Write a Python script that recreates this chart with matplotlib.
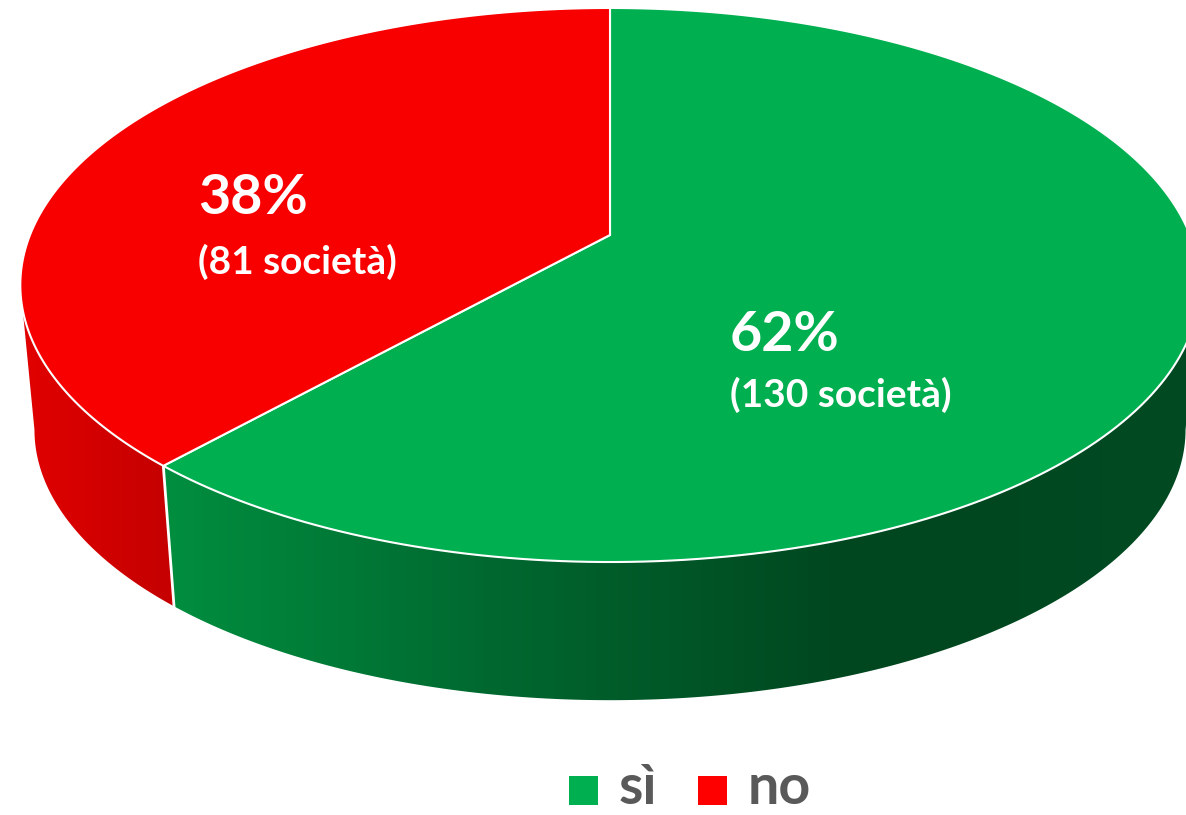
import numpy as np
import matplotlib
matplotlib.use("Agg")
import matplotlib.pyplot as plt
from matplotlib.patches import Polygon, Rectangle
from matplotlib.colors import to_rgb

# data
categorie = ["sì", "no"]
societa = [130, 81]
colori_top = ["#00b050", "#f90000"]
colori_legenda = ["#00b050", "#ff0000"]

totale = sum(societa)
percentuali = [round(100 * v / totale) for v in societa]

# geometry of the 3D pie (pixel space)
cx, cy = 610, 235
A, B, k = 580, 268, 0.1805
depth_shift, shrink = 146, 0.976


def proj(t, level=0):
    a = A * (1 - (1 - shrink) * level)
    b = B * (1 - (1 - shrink) * level)
    c = cy + depth_shift * level
    w = 1 + k * np.sin(t)
    return cx + a * np.cos(t) / w, c - b * np.sin(t) / w


def arc(t0, t1, level=0, n=200):
    t = np.linspace(np.radians(t0), np.radians(t1), n)
    x, y = proj(t, level)
    return np.column_stack([x, y])


fig = plt.figure(figsize=(11.86, 8.15), dpi=100)
ax = fig.add_axes([0, 0, 1, 1])
ax.set_xlim(0, 1186)
ax.set_ylim(815, 0)
ax.axis("off")

# slice angles, clockwise from 12 o'clock
angoli = []
start = 90.0
for v in societa:
    end = start - 360 * v / totale
    angoli.append((start, end))
    start = end

# visible front range of the side wall
sil = np.degrees(np.arcsin(k))
front = (-180 + sil, -sil)

grad_stops = [
    [(150, "#009040"), (500, "#00672f"), (850, "#00461f"), (1186, "#004a22")],
    [(20, "#e20000"), (160, "#c60000")],
]


def gradient_image(stops):
    xs = np.arange(1186)
    px = [s[0] for s in stops]
    cols = np.array([to_rgb(s[1]) for s in stops])
    img = np.zeros((1, 1186, 3))
    for ch in range(3):
        img[0, :, ch] = np.interp(xs, px, cols[:, ch])
    return img


for i, (s, e) in enumerate(angoli):
    lo, hi = min(s, e), max(s, e)
    for off in (-360, 0, 360):
        a0, a1 = max(lo + off, front[0]), min(hi + off, front[1])
        if a1 > a0:
            top = arc(a0, a1, 0)
            bot = arc(a0, a1, 1)[::-1]
            poly = Polygon(np.vstack([top, bot]), closed=True,
                           facecolor="none", edgecolor="none")
            ax.add_patch(poly)
            im = ax.imshow(gradient_image(grad_stops[i]), extent=[0, 1186, 815, 0],
                           aspect="auto", zorder=1)
            im.set_clip_path(poly)

# white edge between the two side walls
split = angoli[0][1]
p0 = proj(np.radians(split), 0)
p1 = proj(np.radians(split), 1)
ax.plot([p0[0], p1[0]], [p0[1], p1[1]], color="white", lw=2, zorder=3)

# top faces
for i, (s, e) in enumerate(angoli):
    pts = np.vstack([[cx, cy], arc(s, e, 0)])
    ax.add_patch(Polygon(pts, closed=True, facecolor=colori_top[i],
                         edgecolor="white", lw=1.5, zorder=4))

# data labels
etichette = [(730, 335, 395), (198, 198, 262)]
for i, (x, y1, y2) in enumerate(etichette):
    ax.text(x, y1, f"{percentuali[i]}%", color="white", fontsize=40,
            fontweight="bold", family="Lato", ha="left", va="center", zorder=5)
    ax.text(x, y2, f"({societa[i]} società)", color="white", fontsize=28,
            fontweight="bold", family="Lato", ha="left", va="center", zorder=5)

# legend
leg_x = [569, 698]
for i, nome in enumerate(categorie):
    ax.add_patch(Rectangle((leg_x[i], 776), 29, 29, facecolor=colori_legenda[i],
                           edgecolor="none", zorder=5))
    ax.text(leg_x[i] + 50, 804, nome, color="#595959", fontsize=40,
            fontweight="bold", family="Lato", ha="left", va="baseline", zorder=5)

fig.savefig("out.png", dpi=100)
